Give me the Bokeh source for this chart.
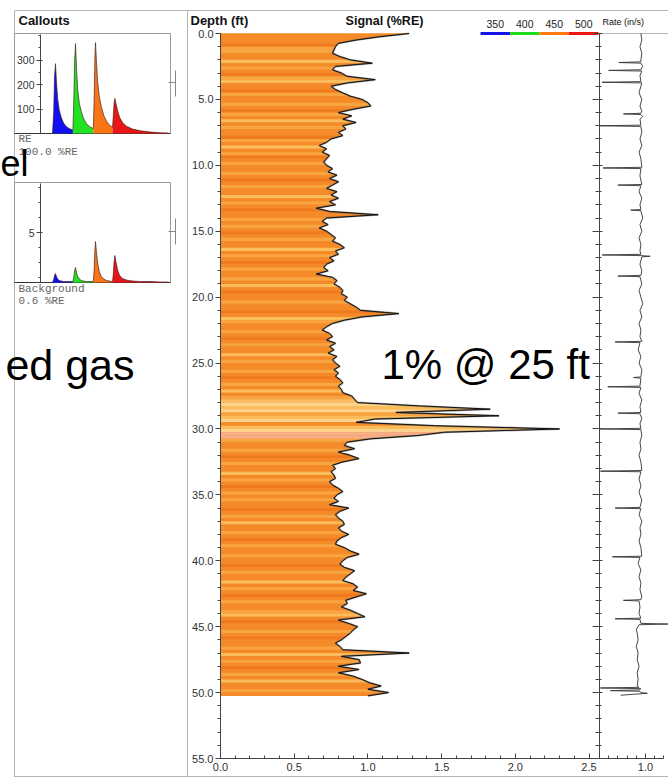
import numpy as np
from bokeh.plotting import figure
from bokeh.models import (Range1d, LinearAxis, FixedTicker, SingleIntervalTicker,
                          PrintfTickFormatter, Label)
from bokeh.embed import file_html
from bokeh.resources import INLINE

# ---------------- data ----------------
# Main track: signal (%RE) sampled every 0.25 ft of depth, starting at 0.0 ft
depth_step = 0.25
signal = [
    1.28, 1.08, 0.92, 0.80, 0.78, 0.77, 0.76, 0.81, 0.88, 1.03, 0.78, 0.76, 0.82, 0.86, 1.05, 0.86, 0.75, 0.78, 0.83, 0.88,
    0.96, 1.00, 1.02, 0.90, 0.80, 0.89, 0.83, 0.92, 0.83, 0.85, 0.80, 0.83, 0.75, 0.72, 0.67, 0.72, 0.69, 0.74, 0.72, 0.70,
    0.72, 0.76, 0.73, 0.79, 0.74, 0.80, 0.76, 0.72, 0.79, 0.75, 0.80, 0.74, 0.78, 0.65, 0.74, 1.07, 0.72, 0.69, 0.73, 0.67,
    0.72, 0.75, 0.78, 0.76, 0.81, 0.84, 0.78, 0.80, 0.74, 0.77, 0.72, 0.70, 0.73, 0.65, 0.76, 0.79, 0.77, 0.81, 0.83, 0.82,
    0.86, 0.84, 0.88, 0.92, 0.95, 1.21, 0.96, 0.84, 0.76, 0.72, 0.69, 0.74, 0.76, 0.72, 0.78, 0.74, 0.77, 0.73, 0.79, 0.76,
    0.78, 0.81, 0.77, 0.80, 0.78, 0.81, 0.83, 0.80, 0.82, 0.83, 0.89, 0.91, 0.93, 1.35, 1.83, 1.19, 1.89, 1.05, 0.92, 1.45,
    2.30, 1.52, 1.34, 1.02, 0.86, 0.84, 0.91, 0.80, 0.88, 0.94, 0.83, 0.76, 0.78, 0.75, 0.77, 0.78, 0.74, 0.76, 0.80, 0.83,
    0.79, 0.77, 0.80, 0.74, 0.87, 0.81, 0.78, 0.80, 0.83, 0.84, 0.80, 0.82, 0.87, 0.82, 0.79, 0.78, 0.84, 0.88, 0.94, 0.86,
    0.83, 0.81, 0.84, 0.91, 0.88, 0.85, 0.83, 0.90, 0.93, 0.90, 0.99, 0.92, 0.85, 0.86, 0.82, 0.88, 0.93, 0.98, 0.80, 0.87,
    0.93, 0.90, 0.88, 0.85, 0.82, 0.78, 0.81, 0.83, 1.28, 0.82, 0.94, 0.95, 0.80, 0.94, 0.80, 0.90, 0.96, 1.01, 1.09, 1.00,
    1.14, 1.00,
]
# colour shade of each 0.25 ft band (o orange, d dark, l light, y yellow, p pale, k peach)
band_codes = "".join([
    "ooodllooyolodlyoodlo", "olodloyoloodloyoldol", "oolodolooyolodoololo",
    "dolooyolodolooloyodo", "oloodoyloolodolooyol", "oolodoloyolypyplypoy",
    "pkkloolodolooyolodol", "oloodoloyoolodoloolo", "odolooyolodoloolyodo",
    "olodooloyolodoloyool", "o",
])
band_palette = {"o": "#F58A28", "d": "#EF7B1E", "l": "#F8A440", "y": "#FBBC5C",
                "p": "#FCD28C", "k": "#F6B08E"}

# Rate track (in/s) against depth (ft)
rate_log = [
    (0.0, 0.95), (0.5, 0.96), (1.0, 0.94), (1.5, 0.96), (2.0, 0.95), (2.15, 0.95), (2.2, 0.71), (2.25, 0.95),
    (2.5, 0.97), (2.75, 0.95), (2.8, 0.60), (2.85, 0.96), (3.2, 0.94), (3.65, 0.95), (3.7, 0.53), (3.75, 0.96),
    (4.0, 0.95), (4.5, 0.93), (5.0, 0.96), (5.5, 0.94), (5.9, 0.96), (6.05, 0.95), (6.1, 0.76), (6.15, 0.95),
    (6.3, 0.97), (6.5, 0.94), (6.95, 0.95), (7.0, 0.50), (7.05, 0.95), (7.5, 0.96), (8.0, 0.94), (8.5, 0.96),
    (9.0, 0.93), (9.5, 0.95), (10.15, 0.96), (10.2, 0.54), (10.25, 0.95), (10.8, 0.94), (11.45, 0.96), (11.5, 0.70),
    (11.55, 0.95), (12.0, 0.93), (12.5, 0.96), (13.0, 0.94), (13.35, 0.95), (13.4, 0.84), (13.45, 0.95), (14.0, 0.97),
    (14.5, 0.94), (15.0, 0.96), (15.5, 0.93), (16.0, 0.95), (16.5, 0.94), (16.75, 0.95), (16.8, 0.53), (16.85, 0.95),
    (16.9, 1.05), (16.95, 0.96), (17.5, 0.94), (18.0, 0.96), (18.35, 0.95), (18.4, 0.70), (18.45, 0.94), (19.0, 0.96),
    (19.5, 0.93), (20.0, 0.95), (20.5, 0.97), (21.0, 0.94), (21.5, 0.96), (22.0, 0.93), (22.5, 0.95), (23.0, 0.94),
    (23.35, 0.96), (23.4, 0.67), (23.45, 0.94), (24.0, 0.92), (24.5, 0.95), (25.0, 0.93), (25.5, 0.96), (26.05, 0.95),
    (26.1, 0.87), (26.15, 0.95), (26.75, 0.94), (26.8, 0.59), (26.85, 0.95), (27.3, 0.93), (27.8, 0.96), (28.3, 0.94),
    (28.75, 0.95), (28.8, 0.70), (28.85, 0.94), (29.2, 0.96), (29.6, 0.94), (29.95, 0.95), (30.0, 0.51), (30.05, 0.95),
    (30.5, 0.96), (31.0, 0.94), (31.5, 0.95), (32.0, 0.93), (32.5, 0.95), (33.15, 0.96), (33.2, 0.51), (33.25, 0.95),
    (33.8, 0.93), (34.3, 0.95), (34.8, 0.93), (35.4, 0.96), (35.95, 0.94), (36.0, 0.67), (36.05, 0.95), (36.5, 0.93),
    (37.0, 0.96), (37.5, 0.94), (38.0, 0.95), (38.5, 0.93), (39.0, 0.95), (39.65, 0.96), (39.7, 0.64), (39.75, 0.94),
    (40.2, 0.92), (40.7, 0.95), (41.2, 0.93), (41.7, 0.95), (42.2, 0.94), (42.7, 0.96), (42.95, 0.95), (43.0, 0.76),
    (43.05, 0.93), (43.5, 0.94), (44.0, 0.93), (44.35, 0.95), (44.4, 0.67), (44.45, 0.94), (44.75, 0.95), (44.8, 1.25),
    (44.85, 0.93), (45.2, 0.90), (45.5, 0.91), (46.0, 0.92), (46.5, 0.90), (47.0, 0.92), (47.5, 0.91), (48.0, 0.93),
    (48.5, 0.91), (49.0, 0.92), (49.5, 0.91), (49.6, 0.93), (49.65, 0.51), (49.7, 0.95), (49.8, 0.93), (49.85, 0.62),
    (49.9, 0.94), (50.0, 0.95), (50.05, 1.02), (50.1, 0.93), (50.2, 0.73),
]
rate_depth = [d for d, _ in rate_log]
rate_value = [v for _, v in rate_log]

# Wavelength colour key
legend_labels = ["350", "400", "450", "500"]
legend_colors = ["#1414E6", "#1EDC1E", "#FF7A0E", "#EE1414"]

# Callout spectra (wavelength, nm) – one segment per colour
blue_w = [330, 333, 335, 337.5, 340, 343, 347, 352, 358, 365, 372, 381]
green_w = [381, 383, 385.5, 387.5, 390, 393, 397, 402, 408, 415, 423, 432]
orange_w = [432, 434, 436, 437.5, 440, 443, 447, 452, 458, 465, 472, 480]
red_w = [480, 482, 484, 486, 489, 493, 498, 505, 515, 530, 550, 575, 600, 620]
c1_blue = [0, 90, 230, 285, 210, 140, 95, 65, 42, 28, 20, 14]
c1_green = [14, 120, 300, 367, 270, 180, 125, 90, 60, 40, 28, 20]
c1_orange = [20, 130, 310, 371, 290, 210, 150, 110, 75, 50, 35, 25]
c1_red = [25, 70, 125, 143, 120, 92, 65, 45, 30, 18, 11, 6, 3, 2]
c2_blue = [0, 0.3, 0.7, 0.9, 0.6, 0.35, 0.2, 0.15, 0.1, 0.1, 0.1, 0.1]
c2_green = [0.1, 0.5, 1.2, 1.5, 1.0, 0.6, 0.35, 0.2, 0.15, 0.1, 0.1, 0.1]
c2_orange = [0.1, 1.2, 3.3, 4.1, 3.0, 1.9, 1.1, 0.6, 0.35, 0.2, 0.15, 0.1]
c2_red = [0.1, 0.8, 2.1, 2.7, 2.0, 1.2, 0.7, 0.4, 0.25, 0.15, 0.1, 0.1, 0.05, 0.05]
spec_colors = ["#1010F0", "#22E022", "#F87414", "#E81616"]

# ---------------- layout (page pixels; the page has no body margin) ----------------
W, H = 668, 777
PX0, PY0 = 0, 0
PX1, PY1 = PX0 + W, PY0 + H
FONT = "Liberation Sans"
MONO = "Liberation Mono"


def map_range(v_a, px_a, v_b, px_b, lo, hi):
    k = (v_b - v_a) / (px_b - px_a)
    return Range1d(start=v_a + (lo - px_a) * k, end=v_a + (hi - px_a) * k)


p = figure(width=W, height=H, x_range=Range1d(PX0, PX1), y_range=Range1d(PY1, PY0),
           x_axis_type=None, y_axis_type=None, min_border=0, toolbar_location=None,
           output_backend="svg", title=None, outline_line_color=None)
p.background_fill_color = "white"
p.border_fill_color = "white"

p.extra_x_ranges = {
    "sig": map_range(0, 220, 2.5, 588.5, PX0, PX1),
    "rate": map_range(0.5, 599, 1.0, 645, PX0, PX1),
    "cx": map_range(300, 40, 400, 80, PX0, PX1),
}
p.extra_y_ranges = {
    "depth": map_range(0, 33, 55, 758, PY1, PY0),
    "c1y": map_range(0, 133, 100, 108.5, PY1, PY0),
    "c2y": map_range(0, 282, 5, 232, PY1, PY0),
}

# panel frame lines
GRAY = "#B4B4B4"
p.segment(x0=[14, 14, 187, 599, 14], y0=[10, 10, 10, 33, 776], x1=[PX1, 14, 187, PX1, PX1], y1=[10, PY1, PY1, 33, 776],
          line_color=GRAY, line_width=1)

# callout boxes
p.quad(left=[14, 14], right=[170, 170], top=[33, 182], bottom=[133, 282],
       fill_color="white", line_color="#9A9A9A", line_width=1)
p.segment(x0=[14, 14], y0=[133, 282], x1=[170, 170], y1=[133, 282], line_color="#333333", line_width=1.2)
# slider markers at right of callouts
p.segment(x0=[175, 168, 175, 168], y0=[70, 82, 218, 231], x1=[175, 175, 175, 175], y1=[96, 82, 244, 231],
          line_color="#888888", line_width=1)

# spectra
for ws, vs1, vs2, col in zip([blue_w, green_w, orange_w, red_w],
                             [c1_blue, c1_green, c1_orange, c1_red],
                             [c2_blue, c2_green, c2_orange, c2_red], spec_colors):
    for vs, yr in ((vs1, "c1y"), (vs2, "c2y")):
        p.varea(x=ws, y1=[0] * len(ws), y2=vs, fill_color=col, x_range_name="cx", y_range_name=yr)
        p.line(ws, vs, line_color="#3a1a1a", line_width=0.8, line_alpha=0.8, x_range_name="cx", y_range_name=yr)

# main track fill
sig = np.array(signal)
depth = np.arange(len(sig)) * depth_step
p.harea(x1=np.zeros_like(sig), x2=sig, y=depth, fill_color=band_palette["o"],
        x_range_name="sig", y_range_name="depth")
nb = len(sig) - 1
codes = (band_codes + "o" * nb)[:nb]
xs = [[0, sig[i], sig[i + 1], 0] for i in range(nb)]
ys = [[depth[i], depth[i], depth[i + 1], depth[i + 1]] for i in range(nb)]
p.patches(xs, ys, fill_color=[band_palette[c] for c in codes], line_color=None,
          x_range_name="sig", y_range_name="depth")
p.line(sig, depth, line_color="#555555", line_width=2.0, line_alpha=0.5, x_range_name="sig", y_range_name="depth")
p.line(sig, depth, line_color="#111111", line_width=1.0, x_range_name="sig", y_range_name="depth")

# rate trace
p.line(rate_value, rate_depth, line_color="#333333", line_width=0.9,
       x_range_name="rate", y_range_name="depth")

# colour key
seg = 29.5
kx = [480 + i * seg for i in range(len(legend_colors))]
p.quad(left=kx, right=[x + seg for x in kx], top=[31.5] * 4, bottom=[34.5] * 4,
       fill_color=legend_colors, line_color=None)


# ---------------- axes ----------------
def style(ax, size="11px"):
    ax.major_label_text_font = FONT
    ax.major_label_text_font_size = size
    ax.major_label_text_color = "#333333"
    ax.axis_line_color = "#444444"
    ax.major_tick_line_color = "#444444"
    ax.minor_tick_line_color = "#444444"
    return ax


ax_depth = style(LinearAxis(x_range_name="sig", y_range_name="depth", fixed_location=0, bounds=(0, 55),
                            ticker=SingleIntervalTicker(interval=5, num_minor_ticks=5),
                            formatter=PrintfTickFormatter(format="%.1f")))
ax_depth.major_tick_out, ax_depth.major_tick_in = 5, 0
ax_depth.minor_tick_out, ax_depth.minor_tick_in = 3, 0
ax_depth.major_label_standoff = 2
p.add_layout(ax_depth, "left")

ax_sig = style(LinearAxis(x_range_name="sig", y_range_name="depth", fixed_location=55, bounds=(0, 2.566),
                          ticker=SingleIntervalTicker(interval=0.5, num_minor_ticks=5),
                          formatter=PrintfTickFormatter(format="%.1f")))
ax_sig.major_tick_out, ax_sig.major_tick_in = 0, 5
ax_sig.minor_tick_out, ax_sig.minor_tick_in = 0, 3
ax_sig.major_label_standoff = 4
p.add_layout(ax_sig, "below")

ax_rd = style(LinearAxis(x_range_name="rate", y_range_name="depth", fixed_location=0.5, bounds=(0, 55),
                         ticker=SingleIntervalTicker(interval=5, num_minor_ticks=5)))
ax_rd.major_label_text_color = None
ax_rd.major_tick_out, ax_rd.major_tick_in = 7, 3
ax_rd.minor_tick_out, ax_rd.minor_tick_in = 4, 2
p.add_layout(ax_rd, "left")

ax_rate = style(LinearAxis(x_range_name="rate", y_range_name="depth", fixed_location=55, bounds=(0.5, 1.2),
                           ticker=FixedTicker(ticks=[1.0], minor_ticks=[0.6, 0.7, 0.8, 0.9, 1.1, 1.2]),
                           formatter=PrintfTickFormatter(format="%.1f")))
ax_rate.major_tick_out, ax_rate.major_tick_in = 0, 5
ax_rate.minor_tick_out, ax_rate.minor_tick_in = 0, 3
ax_rate.major_label_standoff = 4
p.add_layout(ax_rate, "below")

ax_c1 = style(LinearAxis(x_range_name="cx", y_range_name="c1y", fixed_location=300, bounds=(0, 405),
                         ticker=FixedTicker(ticks=[100, 200, 300], minor_ticks=[50, 150, 250, 350, 400]),
                         formatter=PrintfTickFormatter(format="%d")), size="10.5px")
ax_c1.major_tick_out, ax_c1.minor_tick_out = 4, 2
ax_c1.major_label_standoff = 2
p.add_layout(ax_c1, "left")

ax_c2 = style(LinearAxis(x_range_name="cx", y_range_name="c2y", fixed_location=300, bounds=(0, 9.9),
                         ticker=FixedTicker(ticks=[5], minor_ticks=[0.5, 2, 3.5, 6.5, 8, 9.5]),
                         formatter=PrintfTickFormatter(format="%d")), size="10.5px")
ax_c2.major_tick_out, ax_c2.minor_tick_out = 4, 2
ax_c2.major_label_standoff = 2
p.add_layout(ax_c2, "left")


# ---------------- texts ----------------
def label(x, y, text, size, bold=False, font=FONT, align="left", color="#111111", baseline="middle"):
    p.add_layout(Label(x=x, y=y, text=text, text_font=font, text_font_size=size,
                       text_font_style="bold" if bold else "normal", text_align=align,
                       text_baseline=baseline, text_color=color))


label(18, 20, "Callouts", "13px", bold=True)
label(190, 20, "Depth (ft)", "13px", bold=True)
label(384, 20, "Signal (%RE)", "12.5px", bold=True, align="center")
for x, lab in zip(kx, legend_labels):
    label(x + seg / 2, 23, lab, "10.5px", align="center", color="#222222")
label(602, 21, "Rate (in/s)", "9px", color="#111111")

label(18, 138, "RE", "11px", font=MONO, color="#666666")
label(18, 151, "100.0 %RE", "11px", font=MONO, color="#666666")
label(18, 288, "Background", "11px", font=MONO, color="#666666")
label(18, 300, "0.6 %RE", "11px", font=MONO, color="#666666")

# overlapping slide text
label(0, 163, "el", "36px", align="left", color="#000000")
label(134, 364, "ed gas", "43px", align="right", color="#000000")
label(381, 364, "1% @ 25 ft", "42px", align="left", color="#000000")

open("out.html", "w").write(file_html(p, INLINE))
